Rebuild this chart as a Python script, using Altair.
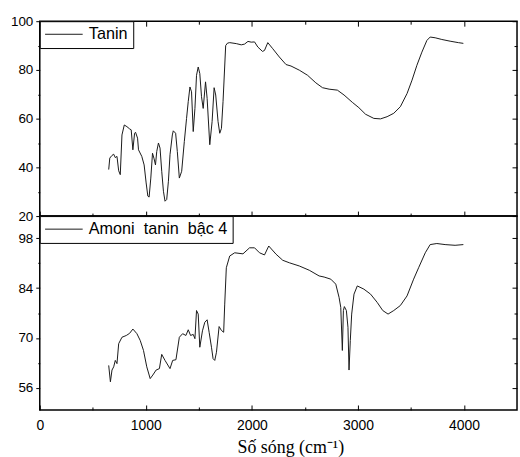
import altair as alt
import pandas as pd

# ---- data ----
tanin_x = [650, 660, 681, 697, 712, 728, 744, 759, 775, 797, 822, 847, 862, 878, 894, 903, 922, 931,
           962, 984, 1003, 1019, 1031, 1047, 1063, 1078, 1091, 1103, 1119, 1134, 1150, 1166, 1181,
           1197, 1213, 1228, 1250, 1259, 1281, 1297, 1316, 1338, 1363, 1384, 1400, 1416, 1431, 1447,
           1463, 1478, 1494, 1509, 1525, 1541, 1563, 1578, 1603, 1625, 1644, 1659, 1681, 1697, 1713,
           1728, 1753, 1770, 1791, 1853, 1900, 1931, 1963, 1994, 2025, 2056, 2100, 2119, 2150, 2197,
           2259, 2322, 2369, 2447, 2525, 2603, 2666, 2728, 2806, 2869, 2947, 3009, 3072, 3150, 3213,
           3275, 3338, 3400, 3463, 3510, 3556, 3603, 3650, 3681, 3728, 3791, 3869, 3947, 3994]
tanin_y = [39.1, 43.8, 44.9, 45.4, 44.0, 44.5, 38.6, 37.0, 53.3, 57.4, 56.7, 55.8, 55.4, 47.2, 54.0,
           54.4, 52.0, 47.2, 44.5, 41.0, 33.6, 28.2, 27.8, 35.6, 45.8, 43.5, 41.0, 46.5, 50.0, 47.9,
           38.4, 30.2, 26.1, 26.8, 34.3, 45.2, 53.3, 55.0, 54.0, 46.5, 35.6, 38.4, 50.6, 60.1, 67.0,
           73.0, 71.0, 54.7, 64.2, 77.8, 81.2, 78.5, 69.0, 64.2, 75.1, 68.3, 49.3, 58.8, 72.7, 69.7,
           58.8, 54.0, 56.0, 67.0, 90.0, 91.0, 91.2, 90.8, 90.3, 90.6, 91.7, 91.4, 91.5, 89.4, 87.6,
           88.0, 91.2, 88.7, 85.3, 82.2, 81.6, 79.9, 77.8, 74.7, 72.7, 72.1, 71.7, 69.7, 66.7, 64.5,
           61.8, 60.1, 59.9, 60.8, 62.2, 64.9, 70.3, 75.8, 81.9, 87.3, 92.1, 93.5, 93.2, 92.5, 91.8,
           91.2, 90.9]

amoni_x = [650, 666, 681, 697, 712, 728, 744, 775, 816, 847, 878, 916, 947, 978, 1009, 1041, 1066,
           1097, 1128, 1150, 1181, 1228, 1253, 1284, 1316, 1347, 1378, 1400, 1422, 1447, 1463, 1478,
           1494, 1509, 1534, 1556, 1578, 1597, 1619, 1634, 1650, 1666, 1691, 1713, 1734, 1744, 1759,
           1791, 1838, 1916, 1978, 2025, 2072, 2119, 2159, 2228, 2291, 2353, 2447, 2541, 2634, 2681,
           2744, 2791, 2822, 2838, 2853, 2863, 2872, 2891, 2906, 2916, 2928, 2941, 2963, 2994, 3056,
           3119, 3181, 3234, 3284, 3338, 3400, 3463, 3525, 3572, 3635, 3681, 3744, 3822, 3916, 3994]
amoni_y = [62.3, 57.7, 61.0, 61.9, 63.7, 62.8, 68.4, 70.2, 70.7, 71.3, 72.5, 71.2, 69.3, 66.5, 61.9,
           58.6, 59.6, 61.0, 61.4, 65.4, 63.7, 61.4, 63.7, 63.9, 70.2, 71.2, 70.7, 72.3, 70.7, 71.0,
           69.8, 77.7, 76.7, 67.4, 72.0, 74.4, 75.1, 71.6, 67.4, 64.2, 63.7, 66.0, 73.2, 72.1, 71.6,
           79.5, 89.7, 93.0, 93.9, 93.6, 95.3, 95.3, 93.9, 93.3, 95.8, 93.5, 91.8, 91.1, 90.2, 89.0,
           87.4, 87.1, 86.5, 85.1, 81.4, 78.6, 66.5, 77.7, 78.8, 77.7, 73.0, 61.0, 69.3, 76.7, 82.3,
           84.6, 83.7, 82.3, 80.0, 77.7, 76.7, 77.7, 79.1, 81.8, 86.5, 89.7, 93.9, 96.2, 96.5, 96.2,
           96.0, 96.2]

x_major = [0, 1000, 2000, 3000, 4000]
x_minor = [500, 1500, 2500, 3500]
top_major = [20, 40, 60, 80, 100]
top_minor = [30, 50, 70, 90]
bot_major = [56, 70, 84, 98]
bot_minor = [63, 77, 91]

top_name = "Tanin\u00a0\u00a0\u00a0"
bot_name = "Amoni\u00a0 tanin\u00a0 bậc 4"
x_title = "Số sóng (cm⁻¹)"

SANS = "Liberation Sans"
SERIF = "Liberation Serif"
LINE = "#1a1a1a"


def tick_axis(orient, values, size, inward):
    return alt.Axis(orient=orient, values=values, tickSize=size, offset=-size if inward else 0,
                    labels=False, domain=False, grid=False, title=None, tickColor="black",
                    tickWidth=1)


def panel(xs, ys, name, ydom, ymaj, ymin, h, bottom, top_ticks):
    df = pd.DataFrame({"x": xs, "y": ys, "s": name})
    xsc = alt.Scale(domain=[0, 4500], nice=False, zero=False)
    ysc = alt.Scale(domain=ydom, nice=False, zero=False)

    def lay(xaxis, yaxis, main=False):
        enc = dict(x=alt.X("x:Q", scale=xsc, axis=xaxis), y=alt.Y("y:Q", scale=ysc, axis=yaxis))
        if main:
            enc["color"] = alt.Color(
                "s:N", scale=alt.Scale(range=[LINE]),
                legend=alt.Legend(orient="top-left", offset=0, padding=5, title=None,
                                  strokeColor="black", fillColor="white",
                                  symbolType="M-1.3,0H5", symbolSize=144, symbolStrokeWidth=1,
                                  labelOffset=28, labelFont=SANS, labelFontSize=16.3,
                                  labelColor="black", labelLimit=400))
            return alt.Chart(df).mark_line(strokeWidth=1).encode(**enc)
        return alt.Chart(df).mark_line(strokeWidth=1, opacity=0).encode(**enc)

    if bottom:
        xmain = alt.Axis(orient="bottom", values=x_major, format="d", ticks=False, domain=False,
                         grid=False, labelFont=SANS, labelFontSize=14, labelColor="black",
                         labelPadding=9, labelFlush=False, title=x_title, titleFont=SERIF,
                         titleFontSize=18, titleFontWeight="normal", titleColor="black",
                         titleX=252, titleY=29, titleBaseline="top")
    else:
        xmain = None
    ymain = alt.Axis(orient="left", values=ymaj, format="d", tickSize=4, tickColor="black",
                     domain=False, grid=False, labelFont=SANS, labelFontSize=13.5,
                     labelColor="black", labelPadding=3, labelFlush=False, title=None,
                     minExtent=30, maxExtent=30)

    layers = [
        lay(xmain, ymain, main=True),
        lay(tick_axis("bottom", x_major, 5, True), tick_axis("left", ymin, 2, False)),
        lay(tick_axis("bottom", x_minor, 3, True), tick_axis("right", ymaj, 5, True)),
        lay(tick_axis("top", x_major, 5, True) if top_ticks else None,
            tick_axis("right", ymin, 3, True)),
    ]
    if top_ticks:
        layers.append(lay(tick_axis("top", x_minor, 3, True), None))
    return alt.layer(*layers).resolve_axis(x="independent", y="independent").properties(
        width=480, height=h)


top = panel(tanin_x, tanin_y, top_name, [20, 100], top_major, top_minor, 196, False, True)
bot = panel(amoni_x, amoni_y, bot_name, [49.8, 104.2], bot_major, bot_minor, 195, True, False)

chart = alt.vconcat(top, bot, spacing=0, bounds="flush").resolve_scale(
    color="independent").resolve_legend(color="independent").properties(
    padding={"left": 9, "top": 12, "right": 1, "bottom": 0}
).configure_view(stroke="black", strokeWidth=1.5).configure_axis(grid=False)

chart.save("out.html", embed_options={"renderer": "svg", "actions": False})
